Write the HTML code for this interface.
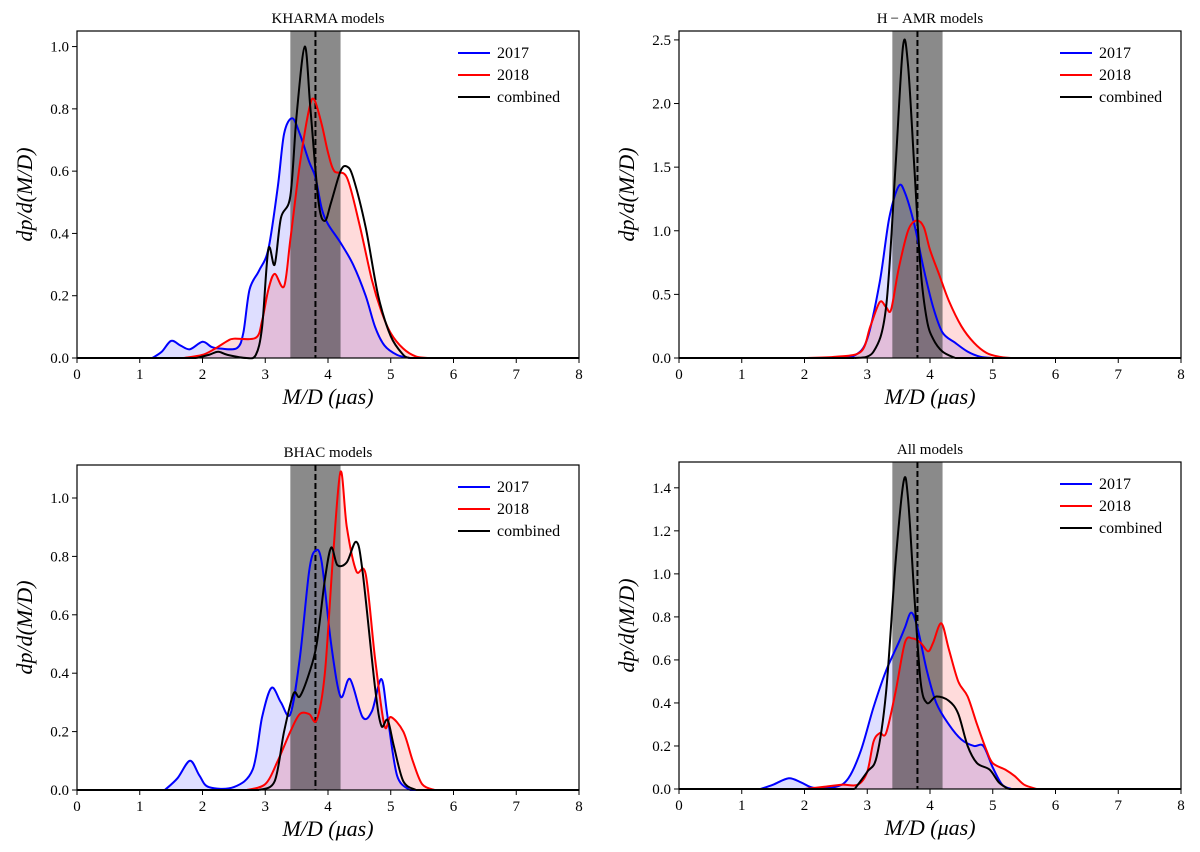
<!DOCTYPE html>
<html><head><meta charset="utf-8"><style>
body{margin:0;background:#fff}
svg{display:block;font-family:"Liberation Serif",serif}
</style></head><body>
<svg id="fig" width="1200" height="852" viewBox="0 0 1200 852"></svg>
<script>
// ---- data ----
const panelTitles=["KHARMA models","H\u2009\u2212\u2009AMR models","BHAC models","All models"];
const yTicksTL=[0,0.2,0.4,0.6,0.8,1.0];
const yTicksTR=[0,0.5,1.0,1.5,2.0,2.5];
const yTicksBL=[0,0.2,0.4,0.6,0.8,1.0];
const yTicksBR=[0,0.2,0.4,0.6,0.8,1.0,1.2,1.4];
const xTicks=[0,1,2,3,4,5,6,7,8];
const bandLow=3.4, bandHigh=4.2, dashX=3.8;
// KHARMA
const kh17x=[1.2,1.35,1.5,1.65,1.8,2.0,2.15,2.3,2.55,2.65,2.75,2.9,3.05,3.2,3.3,3.43,3.55,3.7,3.8,3.9,4.0,4.2,4.4,4.6,4.75,4.9,5.1,5.3];
const kh17y=[0,0.02,0.055,0.04,0.028,0.052,0.035,0.03,0.032,0.08,0.22,0.28,0.35,0.55,0.72,0.77,0.72,0.63,0.58,0.48,0.43,0.37,0.3,0.2,0.1,0.04,0.01,0];
const kh18x=[1.7,2.0,2.2,2.4,2.5,2.85,2.95,3.05,3.15,3.3,3.4,3.55,3.7,3.78,3.9,4.0,4.1,4.3,4.5,4.7,4.85,5.0,5.2,5.4,5.6];
const kh18y=[0,0.01,0.03,0.055,0.062,0.065,0.12,0.22,0.27,0.23,0.38,0.62,0.8,0.83,0.75,0.66,0.6,0.58,0.43,0.25,0.15,0.08,0.03,0.005,0];
const khCx=[1.9,2.1,2.25,2.4,2.7,2.85,2.95,3.05,3.15,3.25,3.4,3.5,3.63,3.72,3.85,3.95,4.05,4.2,4.3,4.4,4.6,4.8,5.0,5.2,5.3];
const khCy=[0,0.01,0.02,0.01,0,0.01,0.1,0.35,0.3,0.45,0.52,0.78,1.0,0.8,0.5,0.44,0.5,0.6,0.615,0.58,0.42,0.2,0.07,0.01,0];
// H-AMR
const ha17x=[2.5,2.8,3.0,3.2,3.35,3.5,3.6,3.75,3.9,4.05,4.2,4.4,4.6,4.8,5.0];
const ha17y=[0,0.02,0.15,0.6,1.1,1.35,1.3,1.05,0.7,0.4,0.2,0.12,0.05,0.01,0];
const ha18x=[2.0,2.5,2.9,3.05,3.2,3.3,3.38,3.5,3.65,3.78,3.9,4.0,4.15,4.3,4.5,4.7,4.9,5.1,5.3];
const ha18y=[0,0.01,0.05,0.25,0.44,0.4,0.38,0.7,1.0,1.08,1.03,0.85,0.65,0.45,0.25,0.12,0.04,0.01,0];
const haCx=[2.8,3.1,3.3,3.45,3.57,3.65,3.75,3.85,3.95,4.05,4.2,4.4];
const haCy=[0,0.05,0.4,1.5,2.45,2.3,1.5,0.7,0.3,0.15,0.05,0];
// BHAC
const bh17x=[1.4,1.6,1.8,1.95,2.1,2.5,2.8,2.95,3.1,3.25,3.4,3.55,3.7,3.8,3.9,4.05,4.2,4.35,4.55,4.7,4.85,4.95,5.1,5.3];
const bh17y=[0,0.04,0.1,0.05,0.01,0.01,0.07,0.25,0.35,0.3,0.26,0.45,0.75,0.82,0.78,0.5,0.32,0.38,0.25,0.27,0.38,0.25,0.05,0];
const bh18x=[2.7,3.0,3.2,3.4,3.55,3.7,3.82,3.95,4.08,4.2,4.3,4.45,4.6,4.75,4.9,5.0,5.2,5.35,5.5,5.7];
const bh18y=[0,0.02,0.1,0.2,0.26,0.26,0.24,0.4,0.8,1.09,0.9,0.75,0.74,0.45,0.22,0.25,0.2,0.1,0.02,0];
const bhCx=[2.9,3.15,3.3,3.45,3.55,3.7,3.82,3.95,4.05,4.15,4.3,4.45,4.55,4.75,4.85,4.95,5.05,5.2,5.4];
const bhCy=[0,0.03,0.2,0.33,0.32,0.4,0.5,0.72,0.83,0.77,0.78,0.85,0.75,0.35,0.22,0.24,0.15,0.03,0];
// All
const al17x=[1.3,1.5,1.75,1.95,2.15,2.5,2.7,2.9,3.1,3.3,3.5,3.6,3.7,3.8,3.95,4.1,4.3,4.5,4.7,4.85,5.0,5.15,5.3];
const al17y=[0,0.02,0.05,0.03,0.005,0.01,0.05,0.18,0.38,0.55,0.68,0.75,0.82,0.75,0.55,0.4,0.3,0.23,0.2,0.2,0.1,0.02,0];
const al18x=[2.0,2.3,2.6,2.85,3.0,3.1,3.2,3.3,3.45,3.6,3.72,3.85,3.97,4.05,4.18,4.3,4.45,4.6,4.75,4.9,5.0,5.2,5.35,5.5,5.7];
const al18y=[0,0.01,0.02,0.02,0.08,0.22,0.26,0.26,0.45,0.68,0.7,0.68,0.64,0.68,0.77,0.65,0.5,0.43,0.3,0.18,0.12,0.09,0.06,0.02,0];
const alCx=[2.8,3.0,3.15,3.3,3.45,3.58,3.65,3.75,3.85,3.95,4.1,4.3,4.45,4.6,4.75,4.95,5.1,5.25];
const alCy=[0,0.08,0.15,0.45,1.05,1.43,1.35,0.9,0.5,0.4,0.43,0.41,0.35,0.2,0.12,0.09,0.03,0];

const panels=[
 {name:"kharma",title:panelTitles[0],x0:77,x1:579,yb:358,yt:31,ymax:1.05,ticks:yTicksTL,dec:1,s:[[kh17x,kh17y],[kh18x,kh18y],[khCx,khCy]]},
 {name:"hamr",title:panelTitles[1],x0:679,x1:1181,yb:358,yt:31,ymax:2.57,ticks:yTicksTR,dec:1,s:[[ha17x,ha17y],[ha18x,ha18y],[haCx,haCy]]},
 {name:"bhac",title:panelTitles[2],x0:77,x1:579,yb:790,yt:465,ymax:1.113,ticks:yTicksBL,dec:1,s:[[bh17x,bh17y],[bh18x,bh18y],[bhCx,bhCy]]},
 {name:"all",title:panelTitles[3],x0:679,x1:1181,yb:789,yt:462,ymax:1.52,ticks:yTicksBR,dec:1,s:[[al17x,al17y],[al18x,al18y],[alCx,alCy]]}
];
const NS="http://www.w3.org/2000/svg";
const svg=document.getElementById('fig');
function mk(tag,attrs,parent,text){const e=document.createElementNS(NS,tag);for(const k in attrs)e.setAttribute(k,attrs[k]);if(text!==undefined)e.textContent=text;(parent||svg).appendChild(e);return e;}
function smooth(pts){let d=`M${pts[0][0]},${pts[0][1]}`;for(let i=0;i<pts.length-1;i++){const p0=pts[Math.max(0,i-1)],p1=pts[i],p2=pts[i+1],p3=pts[Math.min(pts.length-1,i+2)];const t=0.16;const c1=[p1[0]+(p2[0]-p0[0])*t,p1[1]+(p2[1]-p0[1])*t];const c2=[p2[0]-(p3[0]-p1[0])*t,p2[1]-(p3[1]-p1[1])*t];d+=`C${c1[0]},${c1[1]} ${c2[0]},${c2[1]} ${p2[0]},${p2[1]}`;}return d;}
const colors=["#0000ff","#ff0000","#000000"];
const fills=["rgba(0,0,255,0.13)","rgba(255,0,0,0.14)",null];
const labels=["2017","2018","combined"];
panels.forEach((p,pi)=>{
 const g=mk('g',{});
 
 
 const sx=v=>p.x0+(p.x1-p.x0)*v/8;
 const sy=v=>p.yb-(p.yb-p.yt)*v/p.ymax;
 const pathsFor=(xs,ys)=>xs.map((x,i)=>[sx(x),sy(ys[i])]);
 p.s.forEach((s,si)=>{ if(!fills[si])return;
  const pts=pathsFor(s[0],s[1]);
  const f=mk('path',{d:smooth(pts)+`L${pts[pts.length-1][0]},${p.yb}L${pts[0][0]},${p.yb}Z`,fill:fills[si],stroke:'none'},g);
  
  
 });
 const band=mk('rect',{x:sx(bandLow),y:p.yt,width:sx(bandHigh)-sx(bandLow),height:p.yb-p.yt,fill:'rgba(60,60,60,0.6)'},g);
 
 
 const dl=mk('line',{x1:sx(dashX),x2:sx(dashX),y1:p.yt,y2:p.yb,stroke:'#000','stroke-width':2,'stroke-dasharray':'6,3'},g);
 
 
 p.s.forEach((s,si)=>{
  const pts=pathsFor(s[0],s[1]);
  const l=mk('path',{d:smooth(pts)+`M${p.x0},${p.yb}L${pts[0][0]},${p.yb}M${pts[pts.length-1][0]},${p.yb}L${p.x1},${p.yb}`,fill:'none',stroke:colors[si],'stroke-width':2},g);
  
  
 });
 const fr=mk('rect',{x:p.x0,y:p.yt,width:p.x1-p.x0,height:p.yb-p.yt,fill:'none',stroke:'#000','stroke-width':1.2},g);
 
 
 xTicks.forEach(t=>{
  mk('line',{x1:sx(t),x2:sx(t),y1:p.yb,y2:p.yb+5,stroke:'#000'},g);
  const tl=mk('text',{x:sx(t),y:p.yb+21,'font-size':15,'text-anchor':'middle'},g,String(t));
  
  
 });
 p.ticks.forEach(t=>{
  mk('line',{x1:p.x0-5,x2:p.x0,y1:sy(t),y2:sy(t),stroke:'#000'},g);
  const tl=mk('text',{x:p.x0-8,y:sy(t)+5,'font-size':15,'text-anchor':'end'},g,t.toFixed(p.dec));
  
  
 });
 const ti=mk('text',{x:(p.x0+p.x1)/2,y:p.yt-8,'font-size':15,'text-anchor':'middle'},g,p.title);
 
 
 const xl=mk('text',{x:(p.x0+p.x1)/2,y:p.yb+46,'font-size':22,'font-style':'italic','text-anchor':'middle'},g,'M/D (\u03bcas)');
 
 
 const yc=(p.yt+p.yb)/2;
 const yl=mk('text',{x:p.x0-45,y:yc,'font-size':22,'font-style':'italic','text-anchor':'middle',transform:`rotate(-90 ${p.x0-45} ${yc})`},g,'dp/d(M/D)');
 
 
 labels.forEach((lb,li)=>{
  const ly=p.yt+27+li*22;
  const lg=mk('g',{},g);
  
  
  mk('line',{x1:p.x1-121,x2:p.x1-89,y1:ly-5,y2:ly-5,stroke:colors[li],'stroke-width':2},lg);
  mk('text',{x:p.x1-82,y:ly,'font-size':16},lg,lb);
 });
});
</script>
</body></html>
